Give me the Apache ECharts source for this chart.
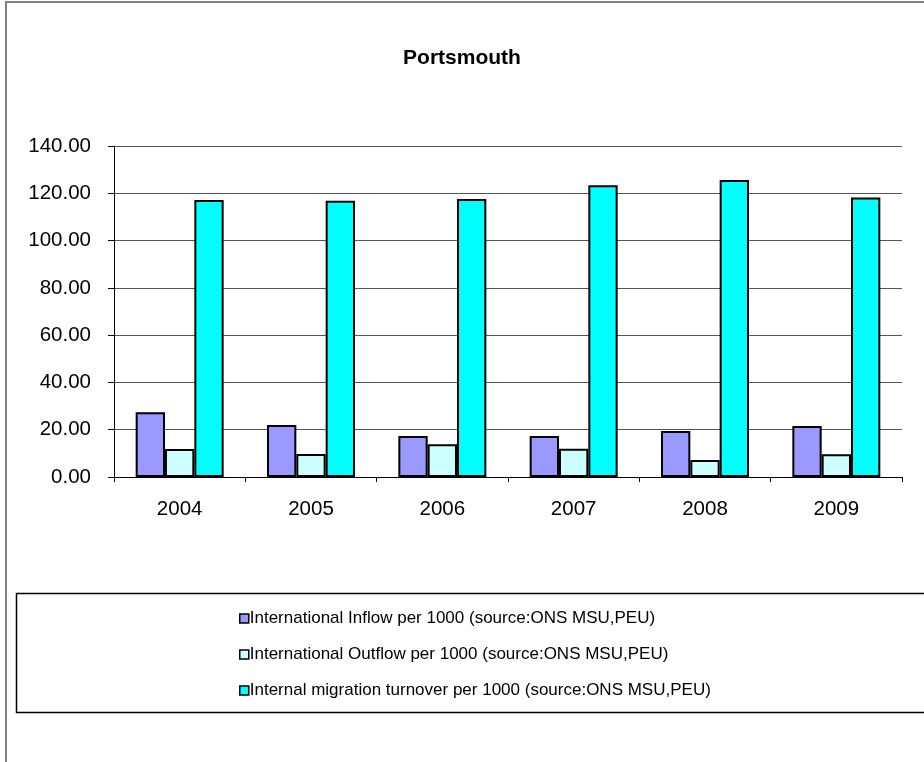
<!DOCTYPE html>
<html>
<head>
<meta charset="utf-8">
<script src="https://cdn.jsdelivr.net/npm/echarts@6/dist/echarts.min.js"></script>
<style>
html,body{margin:0;padding:0;background:#fff;}
#main{width:924px;height:762px;}
</style>
</head>
<body>
<div id="main"></div>
<script>
const categories = ['2004','2005','2006','2007','2008','2009'];
const inflow = [27.4, 22.0, 17.3, 17.3, 19.5, 21.6];
const outflow = [11.8, 9.7, 13.8, 12.0, 7.2, 9.6];
const turnover = [117.2, 116.8, 117.6, 123.4, 125.6, 118.2];
const seriesNames = [
  'International Inflow per 1000 (source:ONS MSU,PEU)',
  'International Outflow per 1000 (source:ONS MSU,PEU)',
  'Internal migration turnover per 1000 (source:ONS MSU,PEU)'
];
const colors = ['#9999FF', '#CCFFFF', '#00FFFF'];
const FONT = '"Liberation Sans", Arial, sans-serif';

const chart = echarts.init(document.getElementById('main'), null, {renderer: 'canvas'});
function bar(name, data, color) {
  return {
    name: name, type: 'bar', data: data,
    barGap: '0%', barCategoryGap: '33%',
    itemStyle: {color: color, borderColor: '#000', borderWidth: 2},
    emphasis: {disabled: true}
  };
}
chart.setOption({
  animation: false,
  backgroundColor: '#fff',
  textStyle: {fontFamily: FONT},
  title: {
    text: 'Portsmouth', left: 'center', top: 43,
    textStyle: {fontFamily: FONT, fontSize: 21, fontWeight: 'bold', color: '#000'}
  },
  graphic: [
    {type: 'rect', shape: {x: 6, y: 2, width: 1000, height: 800}, style: {fill: 'none', stroke: '#808080', lineWidth: 2}, silent: true, z: -1},
    {type: 'rect', shape: {x: 16.5, y: 593.5, width: 1000, height: 119}, style: {fill: 'none', stroke: '#000', lineWidth: 1.5}, silent: true, z: -1}
  ],
  legend: {
    orient: 'vertical', left: 234, top: 605,
    itemWidth: 9, itemHeight: 9, itemGap: 19,
    icon: 'rect',
    itemStyle: {borderColor: '#000', borderWidth: 1.5},
    textStyle: {fontFamily: FONT, fontSize: 17, color: '#000', padding: [0,0,0,-4]},
    data: seriesNames,
    selectedMode: false
  },
  grid: {left: 114, right: 22, top: 146, bottom: 285, containLabel: false},
  xAxis: {
    type: 'category', data: categories,
    axisLine: {show: true, lineStyle: {color: '#000', width: 1}},
    axisTick: {show: true, length: 5, lineStyle: {color: '#000'}},
    axisLabel: {fontFamily: FONT, fontSize: 20.5, color: '#000', margin: 22}
  },
  yAxis: {
    type: 'value', min: 0, max: 140, interval: 20,
    axisLine: {show: true, lineStyle: {color: '#000', width: 1}},
    axisTick: {show: true, length: 6, lineStyle: {color: '#000'}},
    axisLabel: {fontFamily: FONT, fontSize: 20.5, color: '#000', margin: 23,
      formatter: function (v) { return v.toFixed(2); }},
    splitLine: {show: true, lineStyle: {color: '#555', width: 1}}
  },
  series: [
    bar(seriesNames[0], inflow, colors[0]),
    bar(seriesNames[1], outflow, colors[1]),
    bar(seriesNames[2], turnover, colors[2])
  ]
});
</script>
</body>
</html>
